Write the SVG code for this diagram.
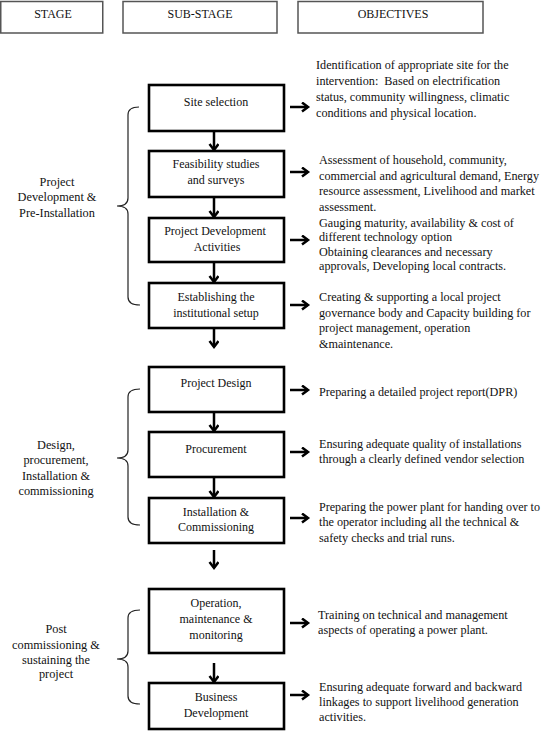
<svg xmlns="http://www.w3.org/2000/svg" width="545" height="735" viewBox="0 0 545 735">
<style>
text{font-family:"Liberation Serif","Times New Roman",serif;fill:#111}
.hd{font-size:12px;text-anchor:middle}
.bx{font-size:12px;text-anchor:middle}
.ob{font-size:12.2px}
.st{font-size:12.3px;text-anchor:middle}
.hbox{fill:#fff;stroke:#555;stroke-width:1.5}
.node rect{fill:#fff;stroke:#000;stroke-width:2.6}
.conn line{stroke:#000;stroke-width:2.5}
.brace{fill:none;stroke:#222;stroke-width:1.2}
</style>
<defs>
<marker id="ah" markerWidth="10" markerHeight="12" refX="7" refY="5" orient="auto" markerUnits="userSpaceOnUse">
<path d="M1,0.5 L7,5 L1,9.5" fill="none" stroke="#000" stroke-width="2.5"/>
</marker>
</defs>
<rect width="545" height="735" fill="#fff"/>
<g id="header">
<rect class="hbox" x="0.75" y="1.5" width="102" height="31.5"/>
<rect class="hbox" x="123" y="1.5" width="154" height="31.5"/>
<rect class="hbox" x="298" y="1.5" width="185" height="31.5"/>
<text class="hd" x="53" y="18">STAGE</text>
<text class="hd" x="200" y="18">SUB-STAGE</text>
<text class="hd" x="393" y="18">OBJECTIVES</text>
</g>
<g id="stages">
<path class="brace" d="M139,107 Q128,107 128,115 L128,198 Q128,206 117,206 Q128,206 128,214 L128,297 Q128,305 140,305"/>
<text class="st" x="57" y="186">Project</text>
<text class="st" x="57" y="201">Development &amp;</text>
<text class="st" x="57" y="217">Pre-Installation</text>
<path class="brace" d="M140,389 Q128,389 128,397 L128,450 Q128,458 117,458 Q128,458 128,466 L128,517 Q128,525 140,525"/>
<text class="st" x="56" y="449">Design,</text>
<text class="st" x="56" y="464">procurement,</text>
<text class="st" x="56" y="480">Installation &amp;</text>
<text class="st" x="56" y="495">commissioning</text>
<path class="brace" d="M140,610 Q128,610 128,618 L128,651 Q128,659 117,659 Q128,659 128,667 L128,696 Q128,704 140,704"/>
<text class="st" x="56" y="633">Post</text>
<text class="st" x="56" y="649">commissioning &amp;</text>
<text class="st" x="56" y="664">sustaining the</text>
<text class="st" x="56" y="678">project</text>
</g>
<g class="node" id="n1"><rect x="149" y="85" width="135" height="46"/><text class="bx" x="216" y="106">Site selection</text></g>
<g class="node" id="n2"><rect x="149" y="151" width="135" height="46"/><text class="bx" x="216" y="168">Feasibility studies</text><text class="bx" x="216" y="184">and surveys</text></g>
<g class="node" id="n3"><rect x="149" y="218" width="135" height="44"/><text class="bx" x="215" y="235">Project Development</text><text class="bx" x="217" y="251">Activities</text></g>
<g class="node" id="n4"><rect x="149" y="283" width="135" height="45"/><text class="bx" x="216" y="301">Establishing the</text><text class="bx" x="216" y="317">institutional setup</text></g>
<g class="node" id="n5"><rect x="149" y="367" width="135" height="45"/><text class="bx" x="216" y="387">Project Design</text></g>
<g class="node" id="n6"><rect x="149" y="432" width="135" height="45"/><text class="bx" x="216" y="453">Procurement</text></g>
<g class="node" id="n7"><rect x="149" y="498" width="135" height="45"/><text class="bx" x="216" y="516">Installation &amp;</text><text class="bx" x="216" y="531">Commissioning</text></g>
<g class="node" id="n8"><rect x="149" y="589" width="135" height="64"/><text class="bx" x="216" y="607">Operation,</text><text class="bx" x="216" y="623">maintenance &amp;</text><text class="bx" x="216" y="639">monitoring</text></g>
<g class="node" id="n9"><rect x="149" y="683" width="135" height="46"/><text class="bx" x="216" y="701">Business</text><text class="bx" x="216" y="717">Development</text></g>
<g class="conn" id="connectors">
<line x1="214" y1="132" x2="214" y2="150" marker-end="url(#ah)"/>
<line x1="214" y1="198" x2="214" y2="217" marker-end="url(#ah)"/>
<line x1="214" y1="263" x2="214" y2="282" marker-end="url(#ah)"/>
<line x1="214" y1="329" x2="214" y2="347" marker-end="url(#ah)"/>
<line x1="214" y1="413" x2="214" y2="431" marker-end="url(#ah)"/>
<line x1="214" y1="478" x2="214" y2="497" marker-end="url(#ah)"/>
<line x1="214" y1="550" x2="214" y2="568" marker-end="url(#ah)"/>
<line x1="214" y1="663" x2="214" y2="682" marker-end="url(#ah)"/>
<line x1="290" y1="107" x2="308" y2="107" marker-end="url(#ah)"/>
<line x1="290" y1="172" x2="308" y2="172" marker-end="url(#ah)"/>
<line x1="290" y1="240" x2="308" y2="240" marker-end="url(#ah)"/>
<line x1="290" y1="305" x2="308" y2="305" marker-end="url(#ah)"/>
<line x1="290" y1="390" x2="308" y2="390" marker-end="url(#ah)"/>
<line x1="290" y1="452" x2="308" y2="452" marker-end="url(#ah)"/>
<line x1="290" y1="518" x2="308" y2="518" marker-end="url(#ah)"/>
<line x1="290" y1="623" x2="308" y2="623" marker-end="url(#ah)"/>
<line x1="290" y1="695" x2="308" y2="695" marker-end="url(#ah)"/>
</g>
<g id="objectives">
<text class="ob" x="316" y="69">Identification of appropriate site for the</text>
<text class="ob" x="316" y="85" xml:space="preserve">intervention:  Based on electrification</text>
<text class="ob" x="316" y="101">status, community willingness, climatic</text>
<text class="ob" x="316" y="117">conditions and physical location.</text>
<text class="ob" x="319" y="164">Assessment of household, community,</text>
<text class="ob" x="319" y="180" textLength="220" lengthAdjust="spacingAndGlyphs">commercial and agricultural demand, Energy</text>
<text class="ob" x="319" y="195">resource assessment, Livelihood and market</text>
<text class="ob" x="319" y="211">assessment.</text>
<text class="ob" x="319" y="227">Gauging maturity, availability &amp; cost of</text>
<text class="ob" x="319" y="241">different technology option</text>
<text class="ob" x="319" y="256">Obtaining clearances and necessary</text>
<text class="ob" x="319" y="270">approvals, Developing local contracts.</text>
<text class="ob" x="319" y="301">Creating &amp; supporting a local project</text>
<text class="ob" x="319" y="317">governance body and Capacity building for</text>
<text class="ob" x="319" y="332">project management, operation</text>
<text class="ob" x="319" y="348">&amp;maintenance.</text>
<text class="ob" x="319" y="396">Preparing a detailed project report(DPR)</text>
<text class="ob" x="319" y="448">Ensuring adequate quality of installations</text>
<text class="ob" x="319" y="463">through a clearly defined vendor selection</text>
<text class="ob" x="319" y="511" textLength="221" lengthAdjust="spacingAndGlyphs">Preparing the power plant for handing over to</text>
<text class="ob" x="319" y="526">the operator including all the technical &amp;</text>
<text class="ob" x="319" y="542">safety checks and trial runs.</text>
<text class="ob" x="318" y="619">Training on technical and management</text>
<text class="ob" x="318" y="634">aspects of operating a power plant.</text>
<text class="ob" x="319" y="691">Ensuring adequate forward and backward</text>
<text class="ob" x="319" y="706">linkages to support livelihood generation</text>
<text class="ob" x="319" y="721">activities.</text>
</g>
</svg>
